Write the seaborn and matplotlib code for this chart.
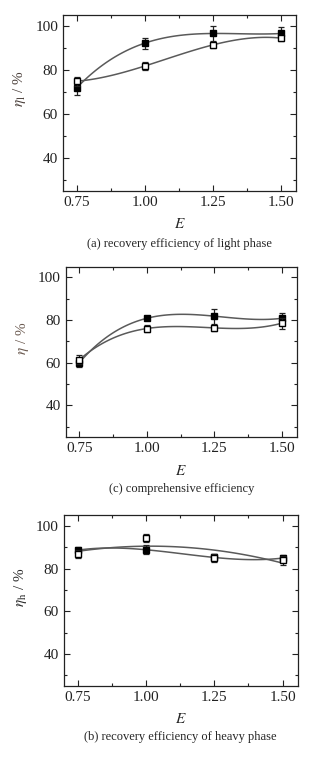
import matplotlib
matplotlib.use("Agg")
import matplotlib.pyplot as plt
import seaborn as sns
import numpy as np
import pandas as pd

sns.set_theme(style="ticks")
plt.rcParams['font.family'] = ['Liberation Serif', 'DejaVu Serif']
plt.rcParams['mathtext.fontset'] = 'stix'

E = [0.75, 1.00, 1.25, 1.50]

# (a) light phase
light_filled = [71.8, 92.2, 96.6, 96.6]
light_filled_err = [3.0, 2.5, 3.5, 3.0]
light_open = [74.9, 81.8, 91.4, 94.5]
light_open_err = [2.0, 2.0, 1.5, 1.5]

# (c) comprehensive
comp_filled = [60.0, 80.8, 81.8, 80.8]
comp_filled_err = [2.0, 1.0, 3.5, 2.5]
comp_open = [61.4, 76.0, 76.3, 78.5]
comp_open_err = [2.0, 1.5, 1.5, 2.5]

# (b) heavy phase
heavy_filled = [88.6, 88.8, 85.2, 84.9]
heavy_filled_err = [1.5, 2.0, 1.5, 1.5]
heavy_open = [86.8, 94.2, 84.9, 83.8]
heavy_open_err = [2.0, 2.0, 2.0, 2.0]

ylabels = [r'$\eta_{\mathrm{l}}$ / %', r'$\eta$ / %', r'$\eta_{\mathrm{h}}$ / %']
captions = ['(a) recovery efficiency of light phase',
            '(c) comprehensive efficiency',
            '(b) recovery efficiency of heavy phase']
xticks = [0.75, 1.00, 1.25, 1.50]
xticklabels = ['0.75', '1.00', '1.25', '1.50']
yticks = [40, 60, 80, 100]

# (filled, filled err, open, open err, fit order filled, fit order open)
panels = [
    (light_filled, light_filled_err, light_open, light_open_err, 3, 3),
    (comp_filled, comp_filled_err, comp_open, comp_open_err, 3, 3),
    (heavy_filled, heavy_filled_err, heavy_open, heavy_open_err, 3, 2),
]

fig = plt.figure(figsize=(3.21, 7.70), dpi=100)
boxes = [
    [0.196, 0.752, 0.726, 0.2285],
    [0.205, 0.432, 0.719, 0.2217],
    [0.199, 0.109, 0.728, 0.222],
]
label_colors = ['#4a3f3a', '#6b5a50', '#2a2a2a']

curve_color = '#5a5a5a'
for i, (yf, ef, yo, eo, of, oo) in enumerate(panels):
    ax = fig.add_axes(boxes[i])
    df_f = pd.DataFrame({'E': E, 'eta': yf})
    df_o = pd.DataFrame({'E': E, 'eta': yo})
    sns.regplot(data=df_f, x='E', y='eta', order=of, ci=None, scatter=False,
                line_kws=dict(color=curve_color, lw=1.1), ax=ax)
    sns.regplot(data=df_o, x='E', y='eta', order=oo, ci=None, scatter=False,
                line_kws=dict(color=curve_color, lw=1.1), ax=ax)
    ax.errorbar(E, yf, yerr=ef, fmt='s', color='black', ms=4.3, mfc='black',
                mec='black', ecolor='#222222', elinewidth=0.9, capsize=2.0, capthick=0.9, zorder=5)
    ax.errorbar(E, yo, yerr=eo, fmt='s', color='black', ms=4.3, mfc='white',
                mec='black', ecolor='#222222', elinewidth=0.9, capsize=2.0, capthick=0.9, zorder=6)
    ax.set_xlim(0.7, 1.555)
    ax.set_ylim(25, 105)
    ax.set_xticks(xticks)
    ax.set_xticklabels(xticklabels)
    ax.set_xticks([0.875, 1.125, 1.375], minor=True)
    ax.set_yticks(yticks)
    ax.set_yticks([30, 50, 70, 90], minor=True)
    ax.tick_params(which='both', direction='in', top=True, right=True,
                   labelsize=11, colors='#222222', width=0.8)
    ax.tick_params(which='major', length=4)
    ax.tick_params(which='minor', length=2.5)
    for s in ax.spines.values():
        s.set_linewidth(0.9)
        s.set_color('#222222')
    ax.set_xlabel(r'$E$', fontsize=11, labelpad=6)
    ax.set_ylabel(ylabels[i], fontsize=11, color=label_colors[i])
    ax.yaxis.set_label_coords(-0.15, 0.58)
    ax.text(0.5, -0.30, captions[i], transform=ax.transAxes, ha='center',
            va='center', fontsize=9)

fig.savefig('out.png', dpi=100)
